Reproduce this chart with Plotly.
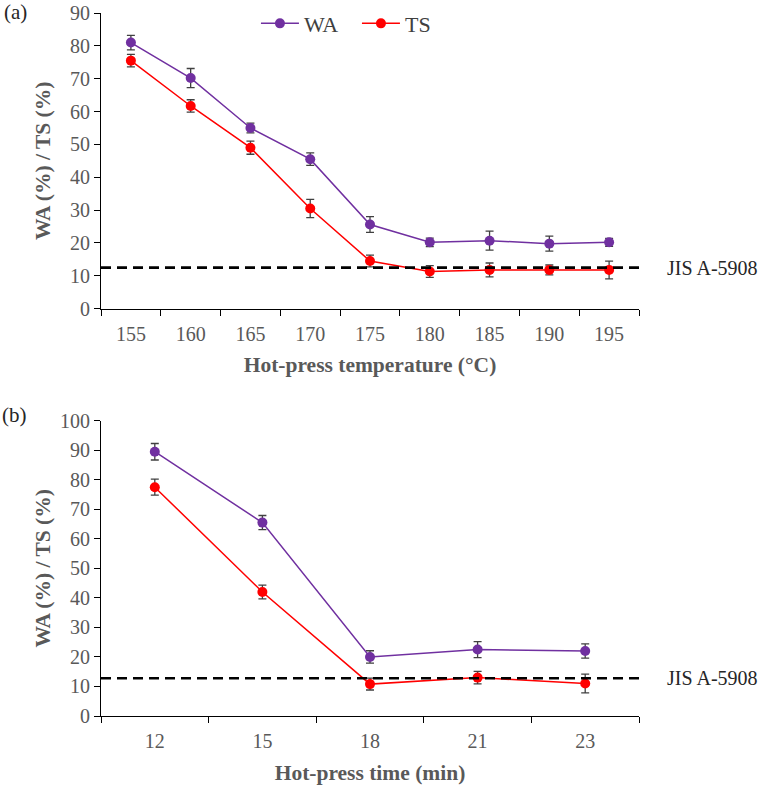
import plotly.graph_objects as go

# ---- Data ----
temp_labels = ["155", "160", "165", "170", "175", "180", "185", "190", "195"]
wa_temp = [81.0, 70.2, 55.0, 45.5, 25.6, 20.2, 20.7, 19.8, 20.2]
wa_temp_err = [2.2, 2.9, 1.5, 1.9, 2.4, 1.3, 2.9, 2.3, 1.2]
ts_temp = [75.5, 61.7, 49.0, 30.5, 14.5, 11.3, 11.8, 11.8, 11.8]
ts_temp_err = [1.9, 1.9, 2.0, 2.8, 1.8, 1.8, 2.1, 1.5, 2.7]

time_labels = ["12", "15", "18", "21", "23"]
wa_time = [89.5, 65.5, 20.0, 22.5, 22.0]
wa_time_err = [2.8, 2.4, 2.1, 2.7, 2.4]
ts_time = [77.5, 42.0, 10.8, 13.0, 11.0]
ts_time_err = [2.7, 2.3, 2.0, 2.1, 3.2]

jis_a = 12.5
jis_b = 12.8
jis_label = "JIS A-5908"

PURPLE = "#7030A0"
RED = "#FF0000"
ERR = "#404040"
FONT = "Liberation Serif, Times New Roman, serif"
GRAY = "#595959"

fig = go.Figure()

def add_series(x, y, err, name, color, xa, ya, show):
    fig.add_trace(go.Scatter(
        x=x, y=y, name=name, mode="lines+markers",
        line=dict(color=color, width=1.5),
        marker=dict(color=color, size=10),
        error_y=dict(type="data", array=err, visible=True,
                     color=ERR, thickness=1.3, width=4),
        xaxis=xa, yaxis=ya, showlegend=show, legendgroup=name,
    ))

add_series(temp_labels, wa_temp, wa_temp_err, "WA", PURPLE, "x", "y", True)
add_series(temp_labels, ts_temp, ts_temp_err, "TS", RED, "x", "y", True)
add_series(time_labels, wa_time, wa_time_err, "WA", PURPLE, "x2", "y2", False)
add_series(time_labels, ts_time, ts_time_err, "TS", RED, "x2", "y2", False)

xcommon = dict(type="category", tickson="boundaries", ticks="outside", ticklen=6,
               tickcolor="#000000", showline=True, linecolor="#000000", linewidth=1.2,
               showgrid=False, zeroline=False, automargin=False, ticklabelstandoff=7,
               tickfont=dict(family=FONT, size=20, color=GRAY))
ycommon = dict(ticks="outside", ticklen=6, tickcolor="#000000", showline=True,
               linecolor="#000000", linewidth=1.2, showgrid=False, zeroline=False,
               automargin=False, dtick=10, tickfont=dict(family=FONT, size=20, color=GRAY))
title_font = dict(family=FONT, size=21.5, color=GRAY)

fig.update_layout(
    width=762, height=787,
    margin=dict(l=101, r=123, t=13, b=71, autoexpand=False),
    paper_bgcolor="white", plot_bgcolor="white",
    font=dict(family=FONT, color=GRAY),
    xaxis=dict(**xcommon, anchor="y", range=[-0.5, len(temp_labels) - 0.5],
               title=dict(text="<b>Hot-press temperature (°C)</b>", standoff=13, font=title_font)),
    yaxis=dict(**ycommon, anchor="x", domain=[0.5794, 1.0], range=[0, 90],
               title=dict(text="<b>WA (%) / TS (%)</b>", standoff=13, font=title_font)),
    xaxis2=dict(**xcommon, anchor="y2", range=[-0.5, len(time_labels) - 0.5],
                title=dict(text="<b>Hot-press time (min)</b>", standoff=13, font=title_font)),
    yaxis2=dict(**ycommon, anchor="x2", domain=[0.0, 0.42], range=[0, 100],
                title=dict(text="<b>WA (%) / TS (%)</b>", standoff=3, font=title_font)),
    legend=dict(orientation="h", x=0.288, xanchor="left",
                y=0.985, yanchor="middle",
                entrywidth=48, entrywidthmode="pixels", itemwidth=38,
                font=dict(family=FONT, size=22, color="#404040"),
                bgcolor="rgba(0,0,0,0)"),
)

for xr, yr, val in (("x domain", "y", jis_a), ("x2 domain", "y2", jis_b)):
    fig.add_shape(type="line", xref=xr, yref=yr, x0=0, x1=1.008, y0=val, y1=val,
                  line=dict(color="#000000", width=2.6, dash="10px,6px"), layer="above")
    fig.add_annotation(xref=xr, yref=yr, x=1.048, y=val, text=jis_label, showarrow=False,
                       xanchor="left", yanchor="middle",
                       font=dict(family=FONT, size=20, color="#262626"))

fig.add_annotation(xref="paper", yref="paper", x=-0.158, y=1.0014, text="(a)", showarrow=False,
                   xanchor="center", yanchor="middle", font=dict(family=FONT, size=21, color="#262626"))
fig.add_annotation(xref="paper", yref="paper", x=-0.16, y=0.4282, text="(b)", showarrow=False,
                   xanchor="center", yanchor="middle", font=dict(family=FONT, size=21, color="#262626"))

fig.write_html("out.html", config={"displayModeBar": False},
               post_script="document.body.style.margin='0';")
